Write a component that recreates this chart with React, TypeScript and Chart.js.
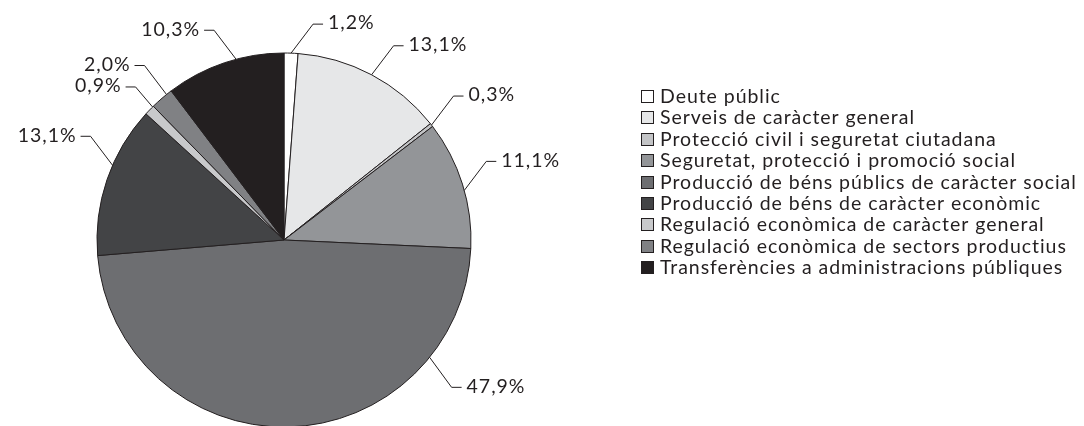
import React, { useEffect, useRef } from "react";
import { Chart, registerables } from "chart.js";

Chart.register(...registerables);

const categories = [
  "Deute públic",
  "Serveis de caràcter general",
  "Protecció civil i seguretat ciutadana",
  "Seguretat, protecció i promoció social",
  "Producció de béns públics de caràcter social",
  "Producció de béns de caràcter econòmic",
  "Regulació econòmica de caràcter general",
  "Regulació econòmica de sectors productius",
  "Transferències a administracions públiques",
];

const shares = [1.2, 13.1, 0.3, 11.1, 47.9, 13.1, 0.9, 2.0, 10.3];

const sliceColors = [
  "#ffffff",
  "#e6e7e8",
  "#c3c4c6",
  "#939598",
  "#6d6e71",
  "#434446",
  "#c8c9cb",
  "#808184",
  "#231f20",
];

const INK = "#231f20";
const FONT = "19.5px Lato, 'Noto Sans', sans-serif";
const LETTER_SPACING = "0.95px";

const fmt = (v: number) => v.toFixed(1).replace(".", ",") + "%";

const leaderLabels = {
  id: "leaderLabels",
  afterDatasetsDraw(chart: any, _args: any, opts: any) {
    const ctx = chart.ctx as any;
    const meta = chart.getDatasetMeta(0);
    ctx.save();
    ctx.strokeStyle = INK;
    ctx.lineWidth = 1;
    ctx.fillStyle = INK;
    ctx.font = FONT;
    ctx.letterSpacing = LETTER_SPACING;
    ctx.textBaseline = "middle";
    meta.data.forEach((arc: any, i: number) => {
      const p = arc.getProps(["x", "y", "startAngle", "endAngle", "outerRadius"], true);
      const f = opts.anchors[i] ?? 0.5;
      const leg = opts.legs[i] ?? [22, 29];
      const a = p.startAngle + (p.endAngle - p.startAngle) * f;
      const sx = p.x + Math.cos(a) * p.outerRadius;
      const sy = p.y + Math.sin(a) * p.outerRadius;
      const right = Math.cos(a) >= 0;
      const down = Math.sin(a) > 0;
      const ex = sx + (right ? leg[0] : -leg[0]);
      const ey = sy + (down ? leg[1] : -leg[1]);
      const hx = ex + (right ? 10 : -10);
      ctx.beginPath();
      ctx.moveTo(sx, sy);
      ctx.lineTo(ex, ey);
      ctx.lineTo(hx, ey);
      ctx.stroke();
      const label = fmt(shares[i]);
      const w = ctx.measureText(label).width;
      const tx = right ? hx + 5 : hx - 4 - w;
      ctx.textAlign = "left";
      ctx.fillText(label, tx, ey - 1);
    });
    ctx.restore();
  },
};

const sideLegend = {
  id: "sideLegend",
  afterDraw(chart: any) {
    const ctx = chart.ctx as any;
    ctx.save();
    ctx.font = FONT;
    ctx.letterSpacing = LETTER_SPACING;
    ctx.textBaseline = "middle";
    ctx.textAlign = "left";
    categories.forEach((name, i) => {
      const y = Math.round(97 + i * 21.4);
      ctx.fillStyle = sliceColors[i];
      ctx.fillRect(641.5, y - 6.5, 12, 12);
      ctx.strokeStyle = INK;
      ctx.lineWidth = 1;
      ctx.strokeRect(641.5, y - 6.5, 12, 12);
      ctx.fillStyle = INK;
      ctx.fillText(name, 660, y);
    });
    ctx.restore();
  },
};

export default function App() {
  const ref = useRef<HTMLCanvasElement | null>(null);
  useEffect(() => {
    if (!ref.current) return;
    const chart = new Chart(ref.current, {
      type: "pie",
      data: {
        labels: categories,
        datasets: [
          {
            data: shares,
            backgroundColor: sliceColors,
            borderColor: INK,
            borderWidth: 1,
          },
        ],
      },
      options: {
        responsive: false,
        animation: false,
        radius: 187,
        layout: { padding: { left: 0, right: 516, top: 54, bottom: 0 } },
        plugins: {
          legend: { display: false },
          tooltip: { enabled: false },
          leaderLabels: {
            anchors: [0.5, 0.5, 0.5, 0.55, 0.21, 0.6, 0.9, 0.75, 0.6],
            legs: [null, null, null, null, [22, 30], null, [17, 20], null, null],
          },
        } as any,
      },
      plugins: [leaderLabels, sideLegend],
    });
    return () => chart.destroy();
  }, []);
  return (
    <div style={{ position: "fixed", left: 0, top: 0, width: 1084, height: 426, background: "#fff" }}>
      <canvas ref={ref} width={1084} height={426} style={{ display: "block" }} />
    </div>
  );
}
